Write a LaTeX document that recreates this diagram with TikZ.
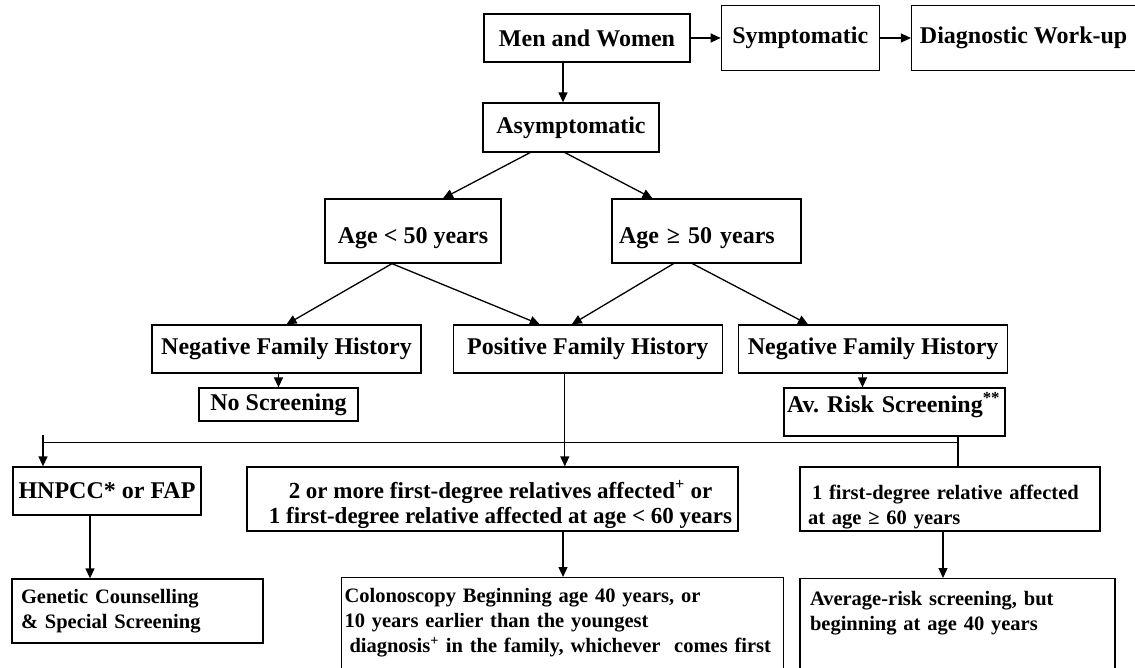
\documentclass[tikz,border=0pt]{standalone}
\usepackage{fontspec}
\setmainfont{Liberation Serif}
\usetikzlibrary{arrows.meta,positioning}
\frenchspacing

\begin{document}
\begin{tikzpicture}[
  x=1pt,y=-1pt,
  >={Triangle[length=10pt,width=9pt]},
  stage/.style={draw,line width=1.3pt,font=\fontsize{24}{27}\selectfont\bfseries,inner sep=4pt},
  advice/.style={draw,line width=1.3pt,font=\fontsize{20.5}{25}\selectfont\bfseries,align=left,inner sep=4pt},
  link/.style={->,line width=1.3pt}
]
  \useasboundingbox (0,0) rectangle (1135,667);
  \clip (0,0) rectangle (1135,667);

  % top row
  \node[stage,minimum width=206pt,minimum height=48pt] (men) at (587,38) {Men and Women};
  \node[stage,minimum width=158pt,minimum height=65pt,right=30pt of men] (sympt) {Symptomatic};
  \node[stage,minimum width=224pt,minimum height=65pt,right=31pt of sympt] (diag) {Diagnostic Work-up};
  \node[stage,minimum width=176pt,minimum height=49pt] (asym) at (571,127.5) {Asymptomatic};

  % age split
  \node[stage,minimum width=176pt,minimum height=64pt] (young) at (413,231)
    {\raisebox{-7pt}[\height][\depth]{Age < 50 years}};
  \node[stage,align=left,text width=175pt,inner xsep=7pt,minimum height=64pt] (old) at (706.5,231)
    {\raisebox{-7pt}[\height][\depth]{Age ≥ 50 years}};

  % family history
  \node[stage,minimum width=269pt,minimum height=48pt] (negl) at (286.5,349) {Negative Family History};
  \node[stage,minimum width=269pt,minimum height=48pt,right=31pt of negl] (pos) {Positive Family History};
  \node[stage,minimum width=269pt,minimum height=48pt,right=15pt of pos] (negr) {Negative Family History};
  \node[stage,minimum width=159pt,minimum height=33pt] (noscr) at (278.5,404.5) {No Screening};
  \node[stage,align=left,text width=215pt,inner xsep=3pt,minimum height=48pt] (avrisk) at (894.5,412)
    {\raisebox{7pt}[\height][\depth]{Av. Risk Screening\textsuperscript{**}}};

  % risk groups
  \node[stage,minimum width=188pt,minimum height=48pt] (hnpcc) at (107,491) {HNPCC* or FAP};
  \node[stage,font=\fontsize{23}{25}\selectfont\bfseries,align=center,inner ysep=1pt,minimum width=491pt,minimum height=64pt] (multi) at (492.5,499)
    {\rule{0pt}{28.5pt}\hspace*{16pt}2 or more first-degree relatives affected\textsuperscript{+} or\\\hspace*{16pt}1 first-degree relative affected at age < 60 years};
  \node[advice,text width=284pt,inner xsep=8pt,inner ysep=1pt,minimum height=64pt] (single) at (950,499)
    {\rule{0pt}{30pt}\hspace{4pt}1 first-degree relative affected\\at age ≥ 60 years};

  % recommendations
  \node[advice,text width=233pt,inner xsep=9pt,minimum height=64pt] (genetic) at (137.5,611)
    {Genetic Counselling\\\& Special Screening};
  \node[advice,anchor=north,text width=436pt,inner xsep=3pt,inner ysep=11pt,text depth=55pt] (colon) at (562.5,577)
    {Colonoscopy Beginning age 40 years, or\\10 years earlier than the youngest\\\hspace{5pt}diagnosis\textsuperscript{+} in the family, whichever~ comes first};
  \node[advice,anchor=north,text width=295pt,inner xsep=10pt,inner ysep=13pt,text depth=55pt] (avgrisk) at (957.5,578)
    {Average-risk screening, but\\beginning at age 40 years};

  \draw[link] (men) -- (sympt);
  \draw[link] (sympt) -- (diag);
  \draw[link] ([xshift=-8pt]asym.north |- men.south) -- ([xshift=-8pt]asym.north);
  \draw[link] ([xshift=-41pt]asym.south) -- ([xshift=30pt]young.north);
  \draw[link] ([xshift=-6pt]asym.south) -- ([xshift=-54pt]old.north);
  \draw[link] ([xshift=-21pt]young.south) -- (negl.north);
  \draw[link] ([xshift=-21pt]young.south) -- ([xshift=-48pt]pos.north);
  \draw[link] ([xshift=-33pt]old.south) -- ([xshift=-16pt]pos.north);
  \draw[link] ([xshift=-14pt]old.south) -- ([xshift=-65pt]negr.north);
  \draw[link] (negl.south -| noscr.north) -- (noscr.north);
  \draw[link] ([xshift=-32pt]avrisk.north |- negr.south) -- ([xshift=-32pt]avrisk.north);

  % distribution line
  \coordinate (busL) at (43,442.5);
  \coordinate (busR) at (958,442.5);
  \draw[line width=1.3pt] (busL) -- (busR);
  \draw[link] ([yshift=8pt]busL) -- (hnpcc.north -| busL);
  \draw[link] ([xshift=-23pt]pos.south) -- ([xshift=-23pt]pos.south |- multi.north);
  \draw[line width=1.3pt] (avrisk.south -| busR) -- (single.north -| busR);

  \draw[link] ([xshift=-17pt]hnpcc.south) -- ([xshift=-17pt]hnpcc.south |- genetic.north);
  \draw[link] ([xshift=70.5pt]multi.south) -- ([xshift=70.5pt]multi.south |- colon.north);
  \draw[link] ([xshift=-7pt]single.south) -- ([xshift=-7pt]single.south |- avgrisk.north);
\end{tikzpicture}
\end{document}
